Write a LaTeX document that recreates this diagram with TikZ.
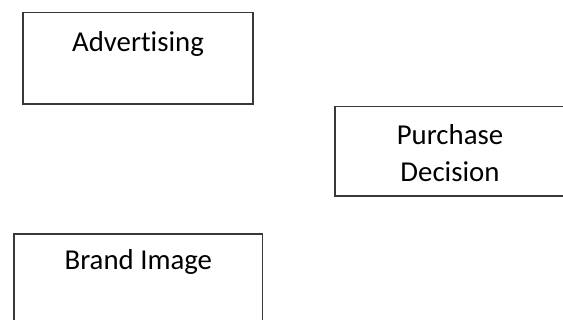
\documentclass[tikz,border=0pt]{standalone}
\usepackage{fontspec}
\setmainfont{Carlito}[Ligatures=NoCommon]
\begin{document}
\begin{tikzpicture}[x=1pt,y=-1pt,
  box/.style={draw=black!78, line width=1.4pt, rectangle, inner sep=0pt},
  label/.style={anchor=base, inner sep=0pt, font=\fontsize{28.8}{37}\selectfont, text=black}]
  \useasboundingbox (0,0) rectangle (563,320);
  \clip (0,0) rectangle (563,320);
  % frames
  \node[box, minimum width=230pt, minimum height=91.3pt] (adv) at (138,58.35) {};
  \node[box, minimum width=231pt, minimum height=89.3pt] (pur) at (450.5,151.35) {};
  \node[box, minimum width=248.7pt, minimum height=92pt] (brand) at (138.35,280) {};
  % captions
  \node[label] (advtext) at (138,51.7) {Advertising};
  \node[label] (purtext1) at (450,144.3) {Purchase};
  \node[label] (purtext2) at (450,181.7) {Decision};
  \node[label] (brandtext) at (138.3,270) {Brand Image};
\end{tikzpicture}
\end{document}
